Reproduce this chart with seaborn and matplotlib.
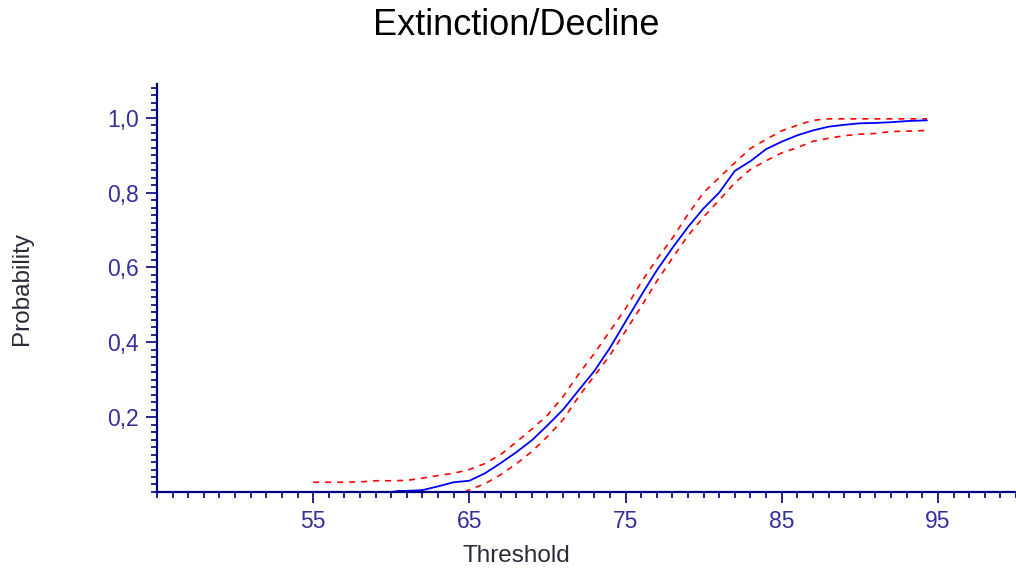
import matplotlib
matplotlib.use("Agg")
import matplotlib.pyplot as plt
import seaborn as sns
import pandas as pd
from matplotlib.ticker import MultipleLocator, FixedLocator, FixedFormatter

# ---- data ----
mean_x = [56.6, 57, 58, 59, 60, 60.5, 61, 62, 63, 64, 65, 66, 67, 68, 69, 70, 71, 72, 73, 74,
          75, 76, 77, 78, 79, 80, 81, 82, 83, 84, 85, 86, 87, 88, 89, 90, 91, 92, 93, 94.3]
mean_y = [0.0, 0.0, 0.0, 0.0, 0.0, 0.003, 0.003, 0.005, 0.015, 0.026, 0.03, 0.05, 0.077, 0.106,
          0.138, 0.178, 0.22, 0.272, 0.323, 0.385, 0.455, 0.525, 0.592, 0.652, 0.708, 0.758, 0.80,
          0.858, 0.884, 0.916, 0.936, 0.953, 0.966, 0.976, 0.981, 0.985, 0.986, 0.988, 0.991, 0.993]

upper_x = [55, 56, 57, 58, 59, 60, 61, 62, 63, 64, 65, 66, 67, 68, 69, 70, 71, 72, 73, 74, 75,
           76, 77, 78, 79, 80, 81, 82, 83, 84, 85, 86, 87, 88, 90, 92, 94.3]
upper_y = [0.026, 0.026, 0.026, 0.027, 0.03, 0.03, 0.031, 0.037, 0.044, 0.05, 0.06, 0.076, 0.10,
           0.133, 0.168, 0.205, 0.255, 0.315, 0.37, 0.43, 0.49, 0.56, 0.622, 0.678, 0.742, 0.80,
           0.84, 0.88, 0.918, 0.942, 0.965, 0.98, 0.993, 0.997, 0.997, 0.997, 0.997]

lower_x = [64.7, 65, 66, 67, 68, 69, 70, 71, 72, 73, 74, 75, 76, 77, 78, 79, 80, 81, 82, 83, 84,
           85, 86, 87, 88, 89, 90, 91, 92, 93, 94.3]
lower_y = [0.0, 0.006, 0.022, 0.046, 0.075, 0.108, 0.148, 0.193, 0.255, 0.31, 0.365, 0.43, 0.495,
           0.563, 0.625, 0.685, 0.735, 0.78, 0.826, 0.862, 0.885, 0.906, 0.92, 0.937, 0.945,
           0.952, 0.956, 0.958, 0.963, 0.964, 0.966]

x_ticks = [55, 65, 75, 85, 95]
x_tick_labels = ["55", "65", "75", "85", "95"]
y_ticks = [0.2, 0.4, 0.6, 0.8, 1.0]
y_tick_labels = ["0,2", "0,4", "0,6", "0,8", "1,0"]

title = "Extinction/Decline"
x_label = "Threshold"
y_label = "Probability"

# ---- style ----
sns.set_theme(style="white")
plt.rcParams["font.family"] = ["Liberation Sans", "DejaVu Sans"]

axis_col = "#000080"
tick_lbl_col = "#33309a"
text_col = "#2a2a3a"

fig = plt.figure(figsize=(10.16, 5.72), dpi=100)
ax = fig.add_axes([0.1545, 0.1399, 0.8455, 0.7132])

df_mean = pd.DataFrame({"x": mean_x, "y": mean_y})
df_up = pd.DataFrame({"x": upper_x, "y": upper_y})
df_lo = pd.DataFrame({"x": lower_x, "y": lower_y})

sns.lineplot(data=df_up, x="x", y="y", ax=ax, color="#ff0000", lw=1.2,
             linestyle=(0, (3.6, 3.6)), estimator=None, sort=True, clip_on=False)
sns.lineplot(data=df_lo, x="x", y="y", ax=ax, color="#ff0000", lw=1.2,
             linestyle=(0, (3.6, 3.6)), estimator=None, sort=True, clip_on=False)
sns.lineplot(data=df_mean, x="x", y="y", ax=ax, color="#0000ff", lw=1.3,
             estimator=None, sort=True, clip_on=False)

ax.set_xlim(45, 100)
ax.set_ylim(0, 1.09)
ax.set_xlabel("")
ax.set_ylabel("")

for s in ["top", "right"]:
    ax.spines[s].set_visible(False)
for s in ["left", "bottom"]:
    ax.spines[s].set_color(axis_col)
    ax.spines[s].set_linewidth(1.6)

ax.xaxis.set_major_locator(FixedLocator(x_ticks))
ax.xaxis.set_major_formatter(FixedFormatter(x_tick_labels))
ax.xaxis.set_minor_locator(MultipleLocator(1))
ax.yaxis.set_major_locator(FixedLocator(y_ticks))
ax.yaxis.set_major_formatter(FixedFormatter(y_tick_labels))
ax.yaxis.set_minor_locator(MultipleLocator(0.02))

ax.tick_params(axis="both", which="major", direction="out", length=8, width=1.2,
               color=axis_col, labelcolor=tick_lbl_col, labelsize=16.5, pad=5)
ax.tick_params(axis="both", which="minor", direction="out", length=4.3, width=1.2,
               color=axis_col)
ax.tick_params(axis="x", which="both", bottom=True)
ax.tick_params(axis="y", which="both", left=True)
ax.grid(False)

fig.text(0.508, 0.955, title, ha="center", va="center", fontsize=26, color="black")
fig.text(0.508, 0.028, x_label, ha="center", va="center", fontsize=17.5, color=text_col)
fig.text(0.022, 0.496, y_label, ha="center", va="center", rotation=90, fontsize=17.5,
         color=text_col)

fig.savefig("out.png", dpi=100)
